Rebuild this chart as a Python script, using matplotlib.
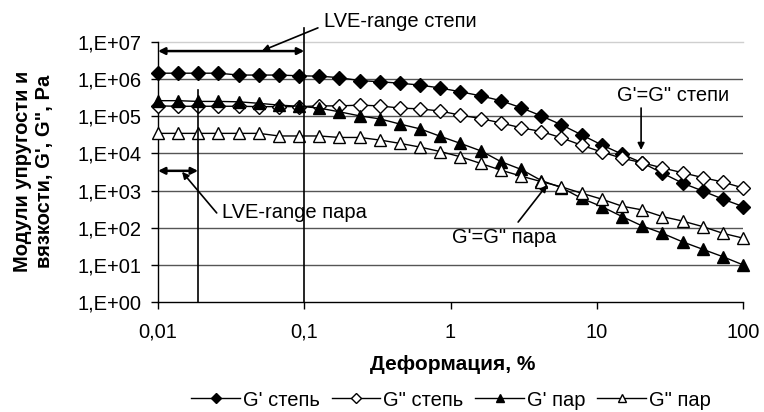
import matplotlib
matplotlib.use("Agg")
import matplotlib.pyplot as plt

plt.rcParams['font.family'] = ['Liberation Sans', 'DejaVu Sans']

# Strain, %
strain = [0.01, 0.0137, 0.0189, 0.0259, 0.0356, 0.0489, 0.0672, 0.0924, 0.127, 0.174,
          0.240, 0.329, 0.452, 0.621, 0.853, 1.17, 1.61, 2.21, 3.04, 4.18,
          5.74, 7.88, 10.8, 14.9, 20.4, 28.1, 38.6, 53.0, 72.8, 100.0]

# log10 of moduli, Pa
lg_Gp_step = [6.16, 6.16, 6.16, 6.16, 6.11, 6.11, 6.11, 6.09, 6.08, 6.04,
              5.96, 5.93, 5.89, 5.84, 5.76, 5.66, 5.55, 5.42, 5.23, 5.01,
              4.77, 4.50, 4.23, 3.98, 3.75, 3.47, 3.20, 2.99, 2.77, 2.57]
lg_Gpp_step = [5.28, 5.27, 5.27, 5.27, 5.27, 5.26, 5.26, 5.26, 5.28, 5.28,
               5.30, 5.28, 5.22, 5.20, 5.14, 5.03, 4.94, 4.82, 4.69, 4.59,
               4.42, 4.22, 4.04, 3.87, 3.75, 3.61, 3.48, 3.35, 3.23, 3.07]
lg_Gp_par = [5.42, 5.42, 5.40, 5.40, 5.39, 5.35, 5.30, 5.27, 5.22, 5.12,
             5.01, 4.93, 4.79, 4.66, 4.46, 4.27, 4.07, 3.78, 3.57, 3.27,
             3.08, 2.79, 2.57, 2.30, 2.05, 1.85, 1.62, 1.42, 1.22, 1.00]
lg_Gpp_par = [4.54, 4.54, 4.54, 4.54, 4.54, 4.54, 4.47, 4.47, 4.47, 4.43,
              4.43, 4.36, 4.27, 4.17, 4.05, 3.91, 3.73, 3.55, 3.39, 3.24,
              3.10, 2.93, 2.77, 2.58, 2.48, 2.30, 2.18, 2.03, 1.85, 1.72]

Gp_step = [10 ** v for v in lg_Gp_step]
Gpp_step = [10 ** v for v in lg_Gpp_step]
Gp_par = [10 ** v for v in lg_Gp_par]
Gpp_par = [10 ** v for v in lg_Gpp_par]

series_labels = ["G' степь", 'G" степь', "G' пар", 'G" пар']
y_ticks = [1, 10, 100, 1e3, 1e4, 1e5, 1e6, 1e7]
y_tick_labels = ['1,E+00', '1,E+01', '1,E+02', '1,E+03', '1,E+04', '1,E+05', '1,E+06', '1,E+07']
x_ticks = [0.01, 0.1, 1, 10, 100]
x_tick_labels = ['0,01', '0,1', '1', '10', '100']

FS = 14.5

fig = plt.figure(figsize=(7.64, 4.12), dpi=100)
ax = fig.add_axes([158 / 764, 1 - 302 / 412, (743 - 158) / 764, (302 - 42) / 412])
ax.set_xscale('log')
ax.set_yscale('log')
ax.set_xlim(0.01, 100)
ax.set_ylim(1, 1e7)

for yv in y_ticks[1:-1]:
    ax.axhline(yv, color='#555555', lw=1.0, zorder=1)
ax.axhline(1e7, color='#cfcfcf', lw=1.0, zorder=1, clip_on=False)

common = dict(color='black', lw=1.0, zorder=3, clip_on=False)
ax.plot(strain, Gp_step, marker='D', ms=7, mfc='black', mec='black', label=series_labels[0], **common)
ax.plot(strain, Gpp_step, marker='D', ms=7, mfc='white', mec='black', mew=1.0, label=series_labels[1], **common)
ax.plot(strain, Gp_par, marker='^', ms=8, mfc='black', mec='black', label=series_labels[2], **common)
ax.plot(strain, Gpp_par, marker='^', ms=8, mfc='white', mec='black', mew=1.0, label=series_labels[3], **common)

for s in ['top', 'right']:
    ax.spines[s].set_visible(False)
for s in ['left', 'bottom']:
    ax.spines[s].set_color('black')
    ax.spines[s].set_linewidth(1.0)

ax.set_yticks(y_ticks)
ax.set_yticklabels(y_tick_labels)
ax.set_xticks(x_ticks)
ax.set_xticklabels(x_tick_labels)
ax.minorticks_off()
ax.tick_params(axis='both', direction='out', length=5, width=1, colors='black', labelsize=FS)
ax.tick_params(axis='y', pad=7)
ax.tick_params(axis='x', pad=10)

# LVE-range lines and arrows
ax.plot([0.1, 0.1], [1, 2.4e7], color='black', lw=1.2, zorder=4, clip_on=False)
ax.plot([0.0188, 0.0188], [1, 5.1e5], color='black', lw=1.2, zorder=4, clip_on=False)
ax.annotate('', xy=(0.01, 5.7e6), xytext=(0.1, 5.7e6),
            arrowprops=dict(arrowstyle='<|-|>', color='black', lw=1.8, mutation_scale=10,
                            shrinkA=0, shrinkB=0), annotation_clip=False)
ax.annotate('', xy=(0.01, 3.4e3), xytext=(0.0188, 3.4e3),
            arrowprops=dict(arrowstyle='<|-|>', color='black', lw=1.8, mutation_scale=10,
                            shrinkA=0, shrinkB=0), annotation_clip=False)
ax.annotate('', xy=(0.0514, 5.8e6), xytext=(0.124, 2.4e7),
            arrowprops=dict(arrowstyle='-|>', color='black', lw=1.2, mutation_scale=10,
                            shrinkA=0, shrinkB=0), annotation_clip=False)
ax.text(0.136, 3.5e7, 'LVE-range степи', fontsize=FS, ha='left', va='center')
ax.annotate('', xy=(0.0146, 3.2e3), xytext=(0.0252, 250),
            arrowprops=dict(arrowstyle='-|>', color='black', lw=1.2, mutation_scale=10,
                            shrinkA=0, shrinkB=0), annotation_clip=False)
ax.text(0.0272, 250, 'LVE-range пара', fontsize=FS, ha='left', va='center')

# Crossover annotations
ax.annotate('', xy=(20.1, 1.24e4), xytext=(20.1, 1.67e5),
            arrowprops=dict(arrowstyle='-|>', color='black', lw=1.2, mutation_scale=10,
                            shrinkA=0, shrinkB=0))
ax.text(33.2, 3.7e5, 'G\'=G" степи', fontsize=FS, ha='center', va='center')
ax.annotate('', xy=(4.57, 1.41e3), xytext=(2.9, 142),
            arrowprops=dict(arrowstyle='-|>', color='black', lw=1.2, mutation_scale=10,
                            shrinkA=0, shrinkB=0))
ax.text(2.32, 53, 'G\'=G" пара', fontsize=FS, ha='center', va='center')

fig.text(453 / 764, 1 - 365 / 412, 'Деформация, %', fontsize=15, fontweight='bold',
         ha='center', va='center')
fig.text(33.5 / 764, 1 - 171 / 412, 'Модули упругости и\nвязкости, G\', G", Pa',
         rotation=90, ha='center', va='center', fontsize=FS, fontweight='bold', linespacing=1.2)

fig.legend(loc='center', bbox_to_anchor=(451 / 764, 1 - 400 / 412), ncol=4, frameon=False,
           fontsize=FS, handlelength=2.4, handletextpad=0.15, columnspacing=0.6,
           markerscale=0.8)

fig.savefig('out.png', dpi=100)
